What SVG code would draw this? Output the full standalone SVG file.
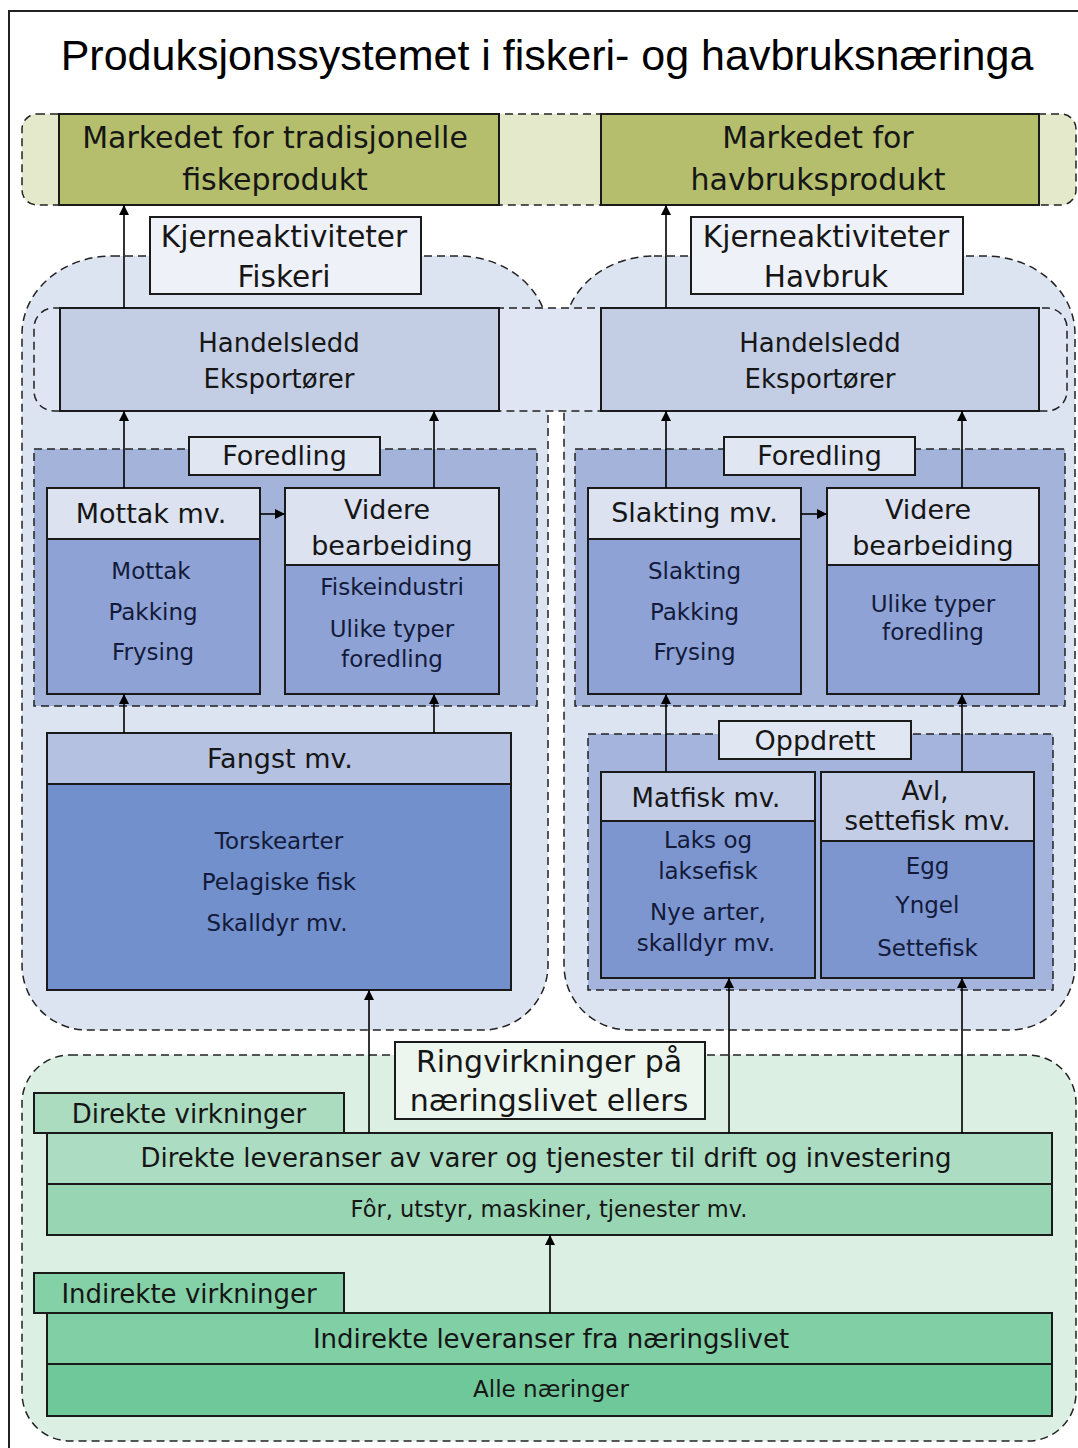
<svg xmlns="http://www.w3.org/2000/svg" width="1078" height="1448" viewBox="0 0 1078 1448">
<defs>
<marker id="ah" viewBox="0 0 10 10" refX="10" refY="5" markerWidth="10" markerHeight="10" markerUnits="userSpaceOnUse" orient="auto">
<path d="M0,0 L10,5 L0,10 z" fill="#000"/>
</marker>
</defs>
<style>
text{font-family:"DejaVu Sans","Liberation Sans",sans-serif;fill:#161616;text-anchor:middle}
.title{font-family:"Liberation Sans",Arial,sans-serif;font-size:43px;fill:#000}
.dash{stroke:#222;stroke-width:1.5;stroke-dasharray:8 5}
.box{stroke:#1a1a1a;stroke-width:2}
.t31{font-size:30px}
.t30{font-size:29.5px}
.t27{font-size:27px}
.t26{font-size:26px}
.t23{font-size:23px;fill:#131a3a}
.b26{font-size:26px}
.conn{stroke:#000;stroke-width:1.6;fill:none;marker-end:url(#ah)}
</style>
<rect width="1078" height="1448" fill="#fff"/>
<path d="M9,1448 V11 H1078" fill="none" stroke="#222" stroke-width="2"/>
<text class="title" x="547" y="70">Produksjonssystemet i fiskeri- og havbruksnæringa</text>

<g id="market-band">
<rect x="22" y="114" width="1054" height="91" rx="15" fill="#e5e9cb" class="dash"/>
</g>
<g id="market-fisk">
<rect x="59" y="114" width="440" height="91" fill="#b4be6c" class="box"/>
<text class="t31" x="275" y="148">Markedet for tradisjonelle</text>
<text class="t31" x="275" y="190">fiskeprodukt</text>
</g>
<g id="market-havbruk">
<rect x="601" y="114" width="438" height="91" fill="#b4be6c" class="box"/>
<text class="t31" x="818" y="148">Markedet for</text>
<text class="t31" x="818" y="190">havbruksprodukt</text>
</g>

<g id="region-fiskeri">
<path d="M112,256 H458 A90 78 0 0 1 548 334 V965 A65 65 0 0 1 483 1030 H87 A65 65 0 0 1 22 965 V334 A90 78 0 0 1 112,256 Z" fill="#dce3f1" class="dash"/>
</g>
<g id="region-havbruk">
<path d="M654,256 H985 A90 78 0 0 1 1075 334 V965 A65 65 0 0 1 1010 1030 H629 A65 65 0 0 1 564 965 V334 A90 78 0 0 1 654,256 Z" fill="#dce3f1" class="dash"/>
</g>
<g id="label-kjerne-fiskeri">
<rect x="150" y="217" width="271" height="77" fill="#eff1f9" class="box"/>
<text class="t30" x="284" y="247">Kjerneaktiviteter</text>
<text class="t30" x="284" y="287">Fiskeri</text>
</g>
<g id="label-kjerne-havbruk">
<rect x="691" y="217" width="272" height="77" fill="#eff1f9" class="box"/>
<text class="t30" x="826" y="247">Kjerneaktiviteter</text>
<text class="t30" x="826" y="287">Havbruk</text>
</g>

<g id="handel-band">
<rect x="34" y="308" width="1033" height="103" rx="20" fill="#dfe5f2" class="dash"/>
</g>
<g id="handel-fisk">
<rect x="60" y="308" width="439" height="103" fill="#c3cde4" class="box"/>
<text class="t26" x="279" y="352">Handelsledd</text>
<text class="t26" x="279" y="388">Eksportører</text>
</g>
<g id="handel-havbruk">
<rect x="601" y="308" width="438" height="103" fill="#c3cde4" class="box"/>
<text class="t26" x="820" y="352">Handelsledd</text>
<text class="t26" x="820" y="388">Eksportører</text>
</g>

<g id="foredling-fisk">
<rect x="34" y="449" width="503" height="257" fill="#a3b3da" class="dash"/>
<rect x="189" y="437" width="191" height="38" fill="#e1e6f3" class="box"/>
<text class="t27" x="284.5" y="465">Foredling</text>
</g>
<g id="mottak">
<rect x="47" y="488" width="213" height="206" fill="#8ea2d5" class="box"/>
<rect x="47" y="488" width="213" height="51" fill="#dce2f0" class="box"/>
<text class="t27" x="151" y="523">Mottak mv.</text>
<text class="t23" x="151" y="579">Mottak</text>
<text class="t23" x="153" y="620">Pakking</text>
<text class="t23" x="153" y="660">Frysing</text>
</g>
<g id="videre-fisk">
<rect x="285" y="488" width="214" height="206" fill="#8ea2d5" class="box"/>
<rect x="285" y="488" width="214" height="77" fill="#dce2f0" class="box"/>
<text class="t27" x="387" y="519">Videre</text>
<text class="t27" x="392" y="555">bearbeiding</text>
<text class="t23" x="392" y="595">Fiskeindustri</text>
<text class="t23" x="392" y="637">Ulike typer</text>
<text class="t23" x="392" y="667">foredling</text>
</g>

<g id="foredling-havbruk">
<rect x="575" y="449" width="490" height="257" fill="#a3b3da" class="dash"/>
<rect x="724" y="437" width="191" height="38" fill="#e1e6f3" class="box"/>
<text class="t27" x="819.5" y="465">Foredling</text>
</g>
<g id="slakting">
<rect x="588" y="488" width="213" height="206" fill="#8ea2d5" class="box"/>
<rect x="588" y="488" width="213" height="51" fill="#dce2f0" class="box"/>
<text class="t27" x="694.5" y="522">Slakting mv.</text>
<text class="t23" x="694.5" y="579">Slakting</text>
<text class="t23" x="694.5" y="620">Pakking</text>
<text class="t23" x="694.5" y="660">Frysing</text>
</g>
<g id="videre-havbruk">
<rect x="827" y="488" width="212" height="206" fill="#8ea2d5" class="box"/>
<rect x="827" y="488" width="212" height="77" fill="#dce2f0" class="box"/>
<text class="t27" x="928" y="519">Videre</text>
<text class="t27" x="933" y="555">bearbeiding</text>
<text class="t23" x="933" y="612">Ulike typer</text>
<text class="t23" x="933" y="640">foredling</text>
</g>

<g id="fangst">
<rect x="47" y="733" width="464" height="257" fill="#7290cc" class="box"/>
<rect x="47" y="733" width="464" height="51" fill="#b5c1e1" class="box"/>
<text class="t27" x="280" y="768">Fangst mv.</text>
<text class="t23" x="279" y="849">Torskearter</text>
<text class="t23" x="279" y="890">Pelagiske fisk</text>
<text class="t23" x="277" y="931">Skalldyr mv.</text>
</g>

<g id="oppdrett">
<rect x="588" y="734" width="465" height="256" fill="#a4b4dc" class="dash"/>
<rect x="719" y="721" width="192" height="38" fill="#e1e6f3" class="box"/>
<text class="t27" x="815" y="750">Oppdrett</text>
</g>
<g id="matfisk">
<rect x="601" y="772" width="214" height="206" fill="#7d96d0" class="box"/>
<rect x="601" y="772" width="214" height="49" fill="#c4cde6" class="box"/>
<text class="t26" x="706" y="807">Matfisk mv.</text>
<text class="t23" x="708" y="848">Laks og</text>
<text class="t23" x="708" y="879">laksefisk</text>
<text class="t23" x="708" y="920">Nye arter,</text>
<text class="t23" x="706" y="951">skalldyr mv.</text>
</g>
<g id="avl">
<rect x="821" y="772" width="213" height="206" fill="#7d96d0" class="box"/>
<rect x="821" y="772" width="213" height="69" fill="#c4cde6" class="box"/>
<text class="t26" x="925" y="800">Avl,</text>
<text class="t26" x="927.5" y="830">settefisk mv.</text>
<text class="t23" x="927.5" y="874">Egg</text>
<text class="t23" x="927.5" y="913">Yngel</text>
<text class="t23" x="927.5" y="956">Settefisk</text>
</g>

<g id="region-ringvirkninger">
<rect x="22" y="1055" width="1054" height="386" rx="48" fill="#dbefe3" class="dash"/>
</g>
<g id="label-ringvirkninger">
<rect x="395" y="1042" width="310" height="77" fill="#ecf6ef" class="box"/>
<text class="t31" x="549" y="1072">Ringvirkninger på</text>
<text class="t31" x="549" y="1111">næringslivet ellers</text>
</g>
<g id="direkte-tab">
<rect x="34" y="1093" width="310" height="40" fill="#abdcc0" class="box"/>
<text class="b26" x="189" y="1123">Direkte virkninger</text>
</g>
<g id="direkte">
<rect x="47" y="1133" width="1005" height="102" fill="#98d5b3" class="box"/>
<rect x="47" y="1133" width="1005" height="51" fill="#acdcc2" class="box"/>
<text class="b26" x="546" y="1167">Direkte leveranser av varer og tjenester til drift og investering</text>
<text class="t23" x="549" y="1217" style="font-size:22.5px;fill:#161616">Fôr, utstyr, maskiner, tjenester mv.</text>
</g>
<g id="indirekte-tab">
<rect x="34" y="1273" width="310" height="40" fill="#84d1a7" class="box"/>
<text class="b26" x="189" y="1303">Indirekte virkninger</text>
</g>
<g id="indirekte">
<rect x="47" y="1313" width="1005" height="103" fill="#6fc899" class="box"/>
<rect x="47" y="1313" width="1005" height="51" fill="#80cfa5" class="box"/>
<text class="b26" x="551" y="1348">Indirekte leveranser fra næringslivet</text>
<text class="t23" x="551" y="1397" style="fill:#161616">Alle næringer</text>
</g>

<g id="connectors">
<path class="conn" d="M124,308 V205"/>
<path class="conn" d="M666,308 V205"/>
<path class="conn" d="M124,488 V411"/>
<path class="conn" d="M434,488 V411"/>
<path class="conn" d="M666,488 V411"/>
<path class="conn" d="M962,488 V411"/>
<path class="conn" d="M260,514 H285"/>
<path class="conn" d="M801,514 H827"/>
<path class="conn" d="M124,733 V694"/>
<path class="conn" d="M434,733 V694"/>
<path class="conn" d="M666,772 V694"/>
<path class="conn" d="M962,772 V694"/>
<path class="conn" d="M369,1133 V990"/>
<path class="conn" d="M729,1133 V978"/>
<path class="conn" d="M962,1133 V978"/>
<path class="conn" d="M550,1313 V1235"/>
</g>
</svg>
